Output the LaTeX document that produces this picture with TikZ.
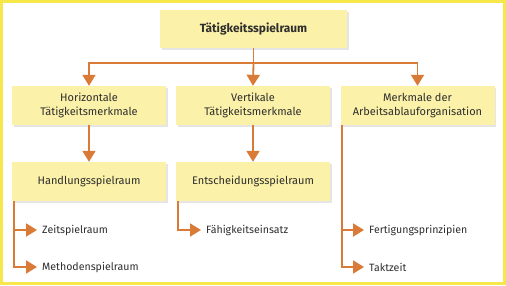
\documentclass[tikz,border=0pt]{standalone}
\usepackage{fontspec}
\setmainfont{Fira Sans}
\usetikzlibrary{arrows.meta,shadows,calc}
\definecolor{frameyellow}{HTML}{F6E84A}
\definecolor{boxfill}{HTML}{FBF1A8}
\definecolor{conn}{HTML}{D97A36}
\definecolor{txt}{HTML}{2E2E2E}
\tikzset{
  box/.style={fill=boxfill, minimum width=154pt, minimum height=39pt, inner sep=0pt,
    align=center, text=txt, font=\fontsize{11}{13.5}\selectfont,
    drop shadow={shadow xshift=1.5pt, shadow yshift=-1.5pt, opacity=0.25, fill=black!40}},
  leaf/.style={anchor=west, inner xsep=5pt, inner ysep=0pt, text=txt, font=\fontsize{10.6}{12}\selectfont},
  conline/.style={draw=conn, line width=1.8pt, -{Triangle[width=13pt,length=11pt]}},
  plainline/.style={draw=conn, line width=1.8pt},
}
\begin{document}
\begin{tikzpicture}[x=1pt,y=-1pt]
\useasboundingbox (0,0) rectangle (506,285);
\fill[frameyellow] (0,0) rectangle (506,285);
\fill[white] (2.5,2.5) rectangle (502.5,281.5);
% nodes
\node[box, minimum width=187pt, minimum height=38pt, font=\bfseries\fontsize{11.9}{13}\selectfont] (top) at (253.5,29) {Tätigkeitsspielraum};
\node[box] (hor) at (89,105.5) {Horizontale\\Tätigkeitsmerkmale};
\node[box] (ver) at (253,105.5) {Vertikale\\Tätigkeitsmerkmale};
\node[box] (org) at (417.5,105.5) {Merkmale der\\Arbeitsablauforganisation};
\node[box] (hand) at (89,181.5) {Handlungsspielraum};
\node[box] (ent) at (253,181.5) {Entscheidungsspielraum};
\node[leaf] (zeit) at (37,230) {Zeitspielraum};
\node[leaf] (meth) at (37,267) {Methodenspielraum};
\node[leaf] (faeh) at (201,230) {Fähigkeitseinsatz};
\node[leaf] (fert) at (364,230) {Fertigungsprinzipien};
\node[leaf] (takt) at (364,267) {Taktzeit};
% connectors
\coordinate (bus) at (253.5,63);
\draw[plainline] (top.south) -- (bus);
\draw[conline] (bus) -| (hor.north);
\draw[conline] (bus) -| (org.north);
\draw[conline] (bus) -- (ver.north);
\draw[conline] (hor.south) -- (hand.north);
\draw[conline] (ver.south) -- (ent.north);
\draw[conline] ($(hand.south west)+(2,0)$) |- (zeit.west);
\draw[conline] ($(hand.south west)+(2,0)$) |- (meth.west);
\draw[conline] ($(ent.south west)+(2,0)$) |- (faeh.west);
\draw[conline] ($(org.south west)+(1.5,0)$) |- (fert.west);
\draw[conline] ($(org.south west)+(1.5,0)$) |- (takt.west);
\end{tikzpicture}
\end{document}
